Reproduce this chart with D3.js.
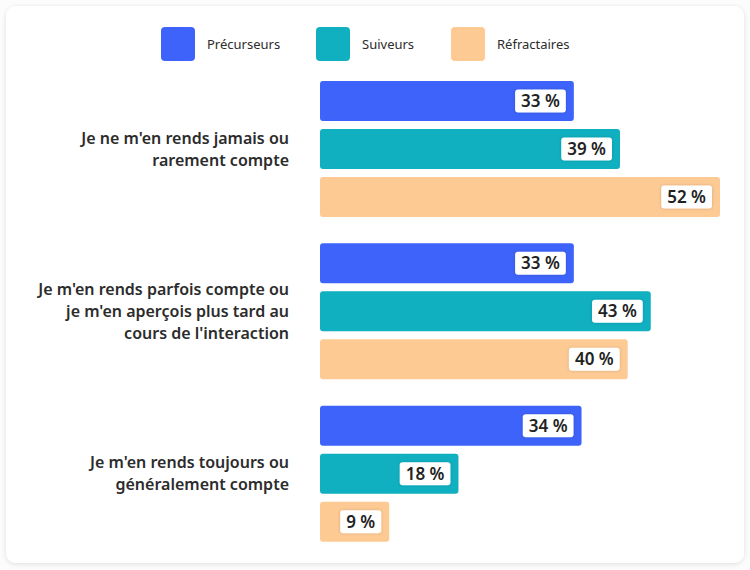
<!DOCTYPE html>
<html>
<head>
<meta charset="utf-8">
<script src="https://cdn.jsdelivr.net/npm/d3@7"></script>
<style>
  body { margin: 0; background: #fcfcfc; font-family: "Noto Sans", "Open Sans", sans-serif; }
</style>
</head>
<body>
<svg id="chart"></svg>
<script>
// categories (label lines) and series
const categories = [
  ["Je ne m'en rends jamais ou", "rarement compte"],
  ["Je m'en rends parfois compte ou", "je m'en aperçois plus tard au", "cours de l'interaction"],
  ["Je m'en rends toujours ou", "généralement compte"]
];
const seriesNames = ["Précurseurs", "Suiveurs", "Réfractaires"];
const precurseurs = [33, 33, 34];
const suiveurs = [39, 43, 18];
const refractaires = [52, 40, 9];
const seriesValues = [precurseurs, suiveurs, refractaires];

const colors = ['#3d63fa', '#10b0c0', '#fdca94'];

const width = 750, height = 570;

const svg = d3.select('#chart')
  .attr('width', width)
  .attr('height', height);

// card with shadow
const defs = svg.append('defs');
const sh = defs.append('filter').attr('id', 'card').attr('x', '-5%').attr('y', '-5%').attr('width', '110%').attr('height', '110%');
sh.append('feDropShadow').attr('dx', 0).attr('dy', 1).attr('stdDeviation', 2.5)
  .attr('flood-color', '#000').attr('flood-opacity', 0.12);
const lsh = defs.append('filter').attr('id', 'lbl').attr('x', '-30%').attr('y', '-40%').attr('width', '160%').attr('height', '180%');
lsh.append('feDropShadow').attr('dx', 0).attr('dy', 0).attr('stdDeviation', 1.5)
  .attr('flood-color', '#000').attr('flood-opacity', 0.18);

svg.append('rect')
  .attr('x', 6).attr('y', 6)
  .attr('width', 738).attr('height', 557)
  .attr('rx', 10)
  .attr('fill', '#fff')
  .attr('filter', 'url(#card)');

//legend
const legendX = [161, 316, 451];
const legend = svg.append('g').selectAll('.legend')
  .data(seriesNames)
  .enter().append('g')
    .attr('class', 'legend')
    .attr('transform', (d, i) => `translate(${legendX[i]},27)`);

legend.append('rect')
  .attr('width', 34).attr('height', 34).attr('rx', 4)
  .attr('fill', (d, i) => colors[i]);

legend.append('text')
  .attr('x', 46).attr('y', 17)
  .attr('dy', '.35em')
  .style('font-size', '13px')
  .attr('fill', '#2c2c2c')
  .text(d => d);

//scales
const x = d3.scaleLinear().domain([0, 52]).range([320, 720]);
const y0 = d3.scaleBand().domain(d3.range(categories.length)).range([81, 568]).paddingInner(0);
const barH = 40, barStep = 48;

const groups = svg.append('g').selectAll('.group')
  .data(categories)
  .enter().append('g')
    .attr('class', 'group')
    .attr('transform', (d, i) => `translate(0,${y0(i)})`);

// category labels
groups.append('text')
  .attr('text-anchor', 'end')
  .style('font-size', '16px')
  .style('font-weight', 600)
  .attr('fill', '#2c2c2c')
  .each(function (lines) {
    const t = d3.select(this);
    const mid = (barStep * 2 + barH) / 2;
    const start = mid - (lines.length - 1) * 22 / 2;
    lines.forEach((l, k) => {
      t.append('tspan').attr('x', 289).attr('y', start + k * 22).attr('dy', '.35em').text(l);
    });
  });

// bars
groups.each(function (c, gi) {
  const g = d3.select(this);
  const rows = seriesValues.map((s, si) => ({ v: s[gi], si }));
  const bar = g.selectAll('.bar')
    .data(rows)
    .enter().append('g')
      .attr('class', 'bar')
      .attr('transform', d => `translate(0,${d.si * barStep})`);

  bar.append('rect')
    .attr('x', x(0))
    .attr('width', d => x(d.v) - x(0))
    .attr('height', barH)
    .attr('rx', 3)
    .attr('fill', d => colors[d.si]);

  const lbl = bar.append('g');
  lbl.append('rect')
    .attr('fill', '#fff')
    .attr('rx', 3)
    .attr('filter', 'url(#lbl)');
  const txt = lbl.append('text')
    .attr('text-anchor', 'end')
    .attr('y', barH / 2)
    .attr('dy', '.35em')
    .style('font-size', '17px')
    .style('font-weight', 600)
    .attr('fill', '#222')
    .text(d => `${d.v} %`);

  txt.each(function (d) {
    const w = this.getComputedTextLength();
    const right = x(d.v) - 14;
    d3.select(this).attr('x', right);
    d3.select(this.parentNode).select('rect')
      .attr('x', right - w - 6)
      .attr('y', barH / 2 - 11.5)
      .attr('width', w + 12)
      .attr('height', 23);
  });
});
</script>
</body>
</html>
